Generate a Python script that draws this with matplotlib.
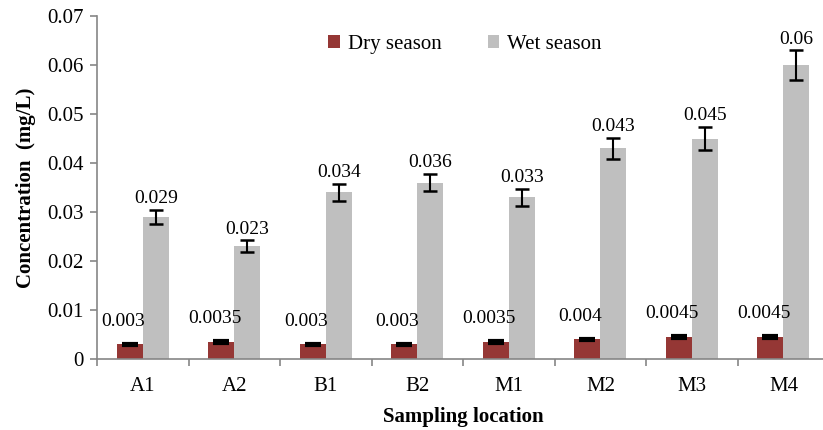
import matplotlib
matplotlib.use("Agg")
import matplotlib.pyplot as plt
import numpy as np

categories = ["A1", "A2", "B1", "B2", "M1", "M2", "M3", "M4"]
dry = [0.003, 0.0035, 0.003, 0.003, 0.0035, 0.004, 0.0045, 0.0045]
wet = [0.029, 0.023, 0.034, 0.036, 0.033, 0.043, 0.045, 0.06]
dry_err = [0.00015, 0.00015, 0.00015, 0.00015, 0.00015, 0.00015, 0.00015, 0.00015]
wet_err = [0.0015, 0.0012, 0.0018, 0.0018, 0.0017, 0.0022, 0.0023, 0.003]
dry_labels = ["0.003", "0.0035", "0.003", "0.003", "0.0035", "0.004", "0.0045", "0.0045"]
wet_labels = ["0.029", "0.023", "0.034", "0.036", "0.033", "0.043", "0.045", "0.06"]

plt.rcParams['font.family'] = ['Liberation Serif', 'DejaVu Serif']

W, H = 823, 430
fig = plt.figure(figsize=(W / 100, H / 100), dpi=100)
left = 97.2 / W
right = 829.2 / W
bottom = 1 - 359 / H
top = 1 - 16 / H
ax = fig.add_axes([left, bottom, right - left, top - bottom])

x = np.arange(len(categories))
bw = 0.284
dry_color = "#953735"
wet_color = "#BFBFBF"
ax.bar(x - bw / 2, dry, bw, color=dry_color, label="Dry season", zorder=2)
ax.bar(x + bw / 2, wet, bw, color=wet_color, label="Wet season", zorder=2)
ax.errorbar(x - bw / 2, dry, yerr=dry_err, fmt="none", ecolor="black",
            elinewidth=1.5, capsize=5.5, capthick=3, zorder=3)
ax.errorbar(x + bw / 2, wet, yerr=wet_err, fmt="none", ecolor="black",
            elinewidth=1.5, capsize=5, capthick=1.8, zorder=3)

for xi, v, e, s in zip(x, dry, dry_err, dry_labels):
    ax.annotate(s, (xi - bw / 2, v + e), xytext=(-5, 10), textcoords="offset points",
                ha="center", va="bottom", fontsize=14)
for xi, v, e, s in zip(x, wet, wet_err, wet_labels):
    ax.annotate(s, (xi + bw / 2, v + e), xytext=(0, 2), textcoords="offset points",
                ha="center", va="bottom", fontsize=14)

ax.set_xlim(-0.5, len(categories) - 0.5)
ax.set_ylim(0, 0.07)
ax.set_yticks(np.arange(0, 0.071, 0.01))
ax.set_yticklabels(["0"] + ["%.2f" % t for t in np.arange(0.01, 0.071, 0.01)])
ax.set_xticks(x)
ax.set_xticklabels(categories)
ax.set_xticks(np.arange(-0.5, len(categories)), minor=True)
ax.tick_params(axis="x", which="major", length=0, pad=13, labelsize=15)
ax.tick_params(axis="x", which="minor", length=5, color="#868686", width=1.2)
ax.tick_params(axis="y", length=5, color="#868686", width=1.2, labelsize=15, pad=5)

for sp in ["top", "right"]:
    ax.spines[sp].set_visible(False)
for sp in ["left", "bottom"]:
    ax.spines[sp].set_color("#868686")
    ax.spines[sp].set_linewidth(1.2)

ax.set_xlabel("Sampling location", fontsize=15, fontweight="bold", labelpad=8)
ax.set_ylabel("Concentration  (mg/L)", fontsize=15, fontweight="bold", labelpad=8)

leg = ax.legend(loc="upper center", ncol=2, frameon=False, fontsize=15,
                handlelength=0.55, handleheight=0.55,
                handletextpad=0.4, columnspacing=2.2)
leg.set_bbox_to_anchor((465 / W, 1 - 16 / H), transform=fig.transFigure)

fig.savefig("out.png", dpi=100)
